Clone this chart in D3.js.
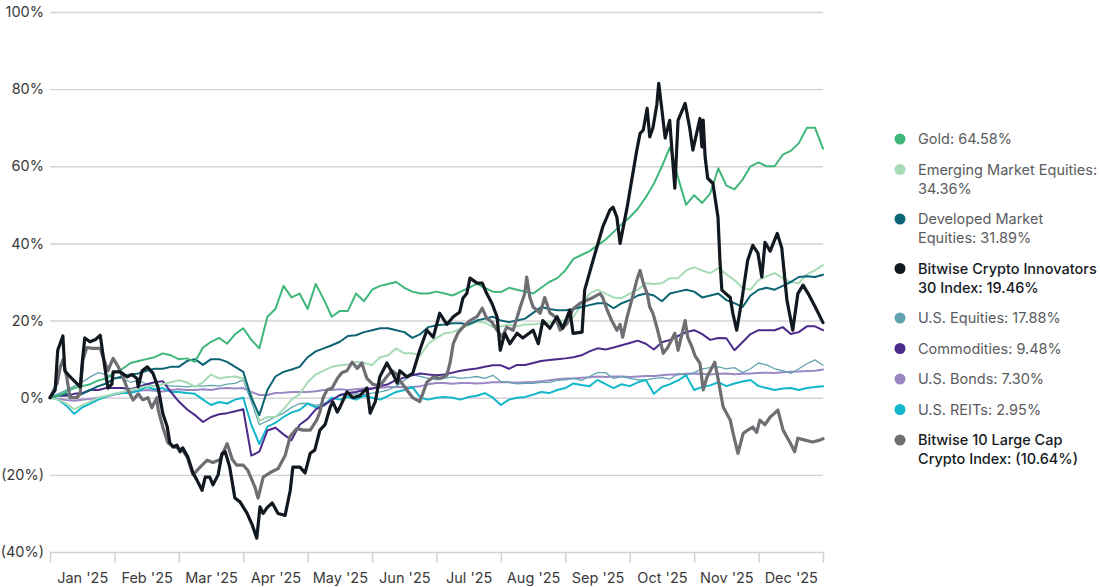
<!DOCTYPE html>
<html>
<head>
<meta charset="utf-8">
<script src="https://cdn.jsdelivr.net/npm/d3@7"></script>
<style>
  body { margin: 0; background: #fff; }
</style>
</head>
<body>
<svg id="chart" width="1100" height="587"></svg>
<script>
// values. x unit = months since Jan 1 (0..12)
const months = ["Jan '25","Feb '25","Mar '25","Apr '25","May '25","Jun '25","Jul '25","Aug '25","Sep '25","Oct '25","Nov '25","Dec '25"]
const yTicks = [-40,-20,0,20,40,60,80,100]
// the smoother series are read every 1/8 month
const samplesPerMonth = 8

const gold = [
  0, 0.5, 1.5, 2.5, 3, 3.5, 4.5, 5,
  6.5, 7.5, 9, 9.5, 10, 10.5, 11.5, 11,
  10, 10.2, 9.3, 13, 14.5, 15.5, 14, 16.5,
  18, 15, 12.8, 21, 23, 29, 26, 27,
  23, 29.5, 25.5, 21, 22.5, 22.5, 27, 25,
  28, 29, 29.5, 30, 28.5, 27.5, 27, 27,
  27.5, 27, 26.5, 27.5, 28.5, 29.5, 28.5, 27.5,
  27.4, 28.5, 28, 27.5, 27, 28.5, 30, 31,
  33, 36, 37, 38, 39.5, 41, 43, 45,
  46.8, 49, 52, 55.5, 60, 65, 57, 50,
  52.5, 50.5, 53, 59.5, 55, 54, 56.5, 60,
  61, 60, 60, 63, 64, 66, 70, 70,
  64.58]
const emerging = [
  0, -0.5, -1.5, -3, -2, -1, 0, 0.5,
  1, 1.5, 2, 2.5, 3, 3, 3.5, 4,
  4.5, 4, 2.8, 4, 6, 5, 5.4, 5.5,
  5, 1, -6, -5, -5, -3, -0.5, 1,
  4, 6, 7, 8, 8.4, 8.6, 9.3, 9,
  8.5, 10.5, 11, 12.8, 11.5, 11.5, 11, 14,
  15.5, 16.7, 17, 18, 18.8, 19.7, 19.5, 18.3,
  18.5, 19, 18.5, 19, 19, 19.3, 19.5, 20,
  20, 21, 24, 27, 28, 27, 26, 25.8,
  27, 28, 29.7, 29.5, 29.7, 31, 31, 33,
  33.8, 33, 32.3, 33.6, 32, 30.5, 28.5, 28,
  30.5, 31.5, 32.3, 31, 30, 29.7, 32, 33,
  34.36]
const developed = [
  0, 0.5, 1, 0, 1, 2, 3, 3.7,
  5, 5.5, 6, 6.3, 7, 7.5, 7.5, 8,
  8, 9.5, 10, 8.5, 10, 10, 9.3, 8,
  6.7, 0, -4.5, 2, 5.5, 6.7, 7.3, 8,
  10.5, 12, 12.8, 13.6, 14.5, 16, 16.2, 17,
  17.5, 18, 18, 17.5, 17, 15.5, 16.5, 18.3,
  18.8, 19, 19.3, 19.3, 19, 20, 20.5, 21,
  20, 19.6, 20, 20.5, 22, 23.5, 23, 22.7,
  22.7, 23, 23.5, 24, 24.5, 24.5, 23.2, 24.5,
  25.3, 26.5, 27, 26.5, 25, 27, 27.5, 28,
  27.5, 26, 26.5, 27, 25.3, 24.5, 23.5, 26.5,
  28, 28.5, 28, 29, 30, 31.3, 31.5, 31.3,
  31.89]
const usEquities = [
  0, 1, 2, 3, 4, 5.4, 6.5, 6,
  5, 5, 4, 4.5, 3.5, 3, 3.5, 3,
  3, 2.8, 3, 3, 3.2, 3, 3.5, 3.7,
  4.6, -1, -7, -6, -5, -4, -2.5, -1.5,
  -1.5, -2, -1.5, -0.5, 0.5, 0.8, 1, 0.8,
  1.2, 1.5, 2, 3, 4.5, 6, 5.5, 5,
  4.6, 5, 5.4, 5, 5.2, 5.5, 5, 5.8,
  4.2, 4, 3.6, 3.7, 3.7, 4, 4, 4.5,
  4.6, 5, 4.5, 5.5, 6.5, 6.5, 5, 5.5,
  5, 4.6, 4.6, 5, 5.2, 4.8, 6.3, 5.8,
  6.5, 7.5, 7.8, 8, 7.5, 7.8, 6.5, 7.5,
  9, 8.5, 7.5, 7, 6.3, 7.5, 8.8, 9.8,
  8.4]
const commodities = [
  0, 0.5, 0.5, 1, 1.2, 2, 2, 2.5,
  2.5, 2.5, 2.2, 2.8, 3.5, 4, 4.3, 1.5,
  -1, -3, -4.5, -6.3, -5, -4.3, -4, -3.5,
  -3, -15, -14, -8.5, -7.8, -9.5, -11, -7,
  -5.5, -3, -2, -0.6, 0.7, 1.2, 1.5, 2,
  2.3, 3, 3.5, 4.6, 5.2, 5.8, 6.3, 6,
  5.8, 6, 6.5, 7, 7.3, 7.6, 8, 8.4,
  8.4, 7.5, 8.5, 8.5, 9, 9.5, 9.8, 10,
  10.2, 10.5, 11, 12, 12.8, 12.5, 13, 13.6,
  14.2, 14.8, 14, 12.5, 14.4, 15, 16, 17,
  17.5, 16.5, 15, 15.5, 15.4, 12.3, 14.4, 16.5,
  17.5, 17.5, 17.5, 18.3, 16.5, 17, 18.5, 18.5,
  17.5]
const usBonds = [
  0, -0.3, -0.6, -0.8, -0.5, -0.3, 0, 0.3,
  0.8, 1.2, 1.5, 1.8, 2, 1.8, 1.6, 2,
  2.2, 2, 2, 2.2, 2, 2.4, 2.5, 2.4,
  2.5, 1.5, 0.7, 0.7, 1.2, 1.3, 1.5, 1.5,
  1.5, 1.7, 2, 2, 2.2, 2, 2.2, 2.4,
  2.5, 2.6, 2.8, 2.8, 2.7, 2.8, 3, 3.5,
  3.8, 3.8, 3.6, 3.8, 3.8, 3.7, 3.8, 4,
  4, 4, 3.9, 4, 4.1, 4.3, 4.5, 4.8,
  5, 5, 5.2, 5.3, 5.5, 5.4, 5.5, 5.5,
  5.4, 5.5, 5.6, 5.6, 5.8, 6, 6, 6.2,
  6.3, 6.2, 6, 6.2, 6.3, 6.1, 6.2, 6.3,
  6.4, 6.5, 6.4, 6.6, 6.7, 6.8, 6.9, 7,
  7.3]
const usReits = [
  0, -0.5, -2, -4.2, -2.5, -1.5, -0.5, 0.3,
  1, 1.2, 1.2, 1.8, 2.8, 2.2, 2.5, 1.5,
  1.5, 1.2, 1, -0.5, -1.9, -1.1, -1.5, -0.5,
  0, -7, -12, -7.5, -6.5, -5, -3.8, -3.2,
  -1.5, -2.5, -2, 0, -0.5, 0.2, -0.5, 0.5,
  0, -0.5, 0.5, 1.5, 2, 2.8, 0, -0.5,
  0, 0.2, 0, -0.5, 0.2, 0.5, 1.2, 0,
  -1.9, -0.5, 0, 0.2, 0.8, 1.5, 1.2, 2,
  2.5, 3.7, 3.3, 3, 4.6, 3.5, 2.5, 3.5,
  3, 4, 4.6, 1, 2.8, 3.5, 4.5, 5.8,
  2, 2.8, 3.2, 4, 3, 3.7, 4.2, 4.6,
  3, 2.5, 2, 2.4, 2.5, 2, 2.5, 2.8,
  2.95]

// the two crypto indexes are spiky, so they are read as [month, value] turning points
const innovators30 = [
  [0,0],[0.08,2],[0.12,12.3],[0.20,16],[0.23,7],[0.28,6],[0.36,4.6],[0.47,2.8],[0.50,9],[0.54,15.5],
  [0.62,14.5],[0.70,15],[0.78,16.2],[0.82,11.5],[0.88,4.6],[0.90,2.5],[0.96,3.5],[0.98,6.7],[1.09,6.7],[1.20,5.4],
  [1.27,6],[1.35,5],[1.37,2.8],[1.43,7],[1.51,8],[1.60,6.3],[1.68,2.5],[1.75,-4],[1.82,-7.5],[1.86,-11.7],
  [1.91,-12.8],[1.97,-12.3],[2.02,-14],[2.06,-13],[2.14,-15.4],[2.22,-19.5],[2.28,-21.3],[2.36,-24],[2.41,-20.6],[2.48,-20.6],
  [2.53,-22.6],[2.61,-20],[2.67,-14.5],[2.72,-14],[2.79,-18],[2.87,-26],[2.95,-27],[3.06,-30],[3.14,-33],[3.21,-36.4],
  [3.26,-28.3],[3.31,-30],[3.37,-28.5],[3.45,-27.3],[3.54,-30],[3.65,-30.5],[3.73,-24],[3.77,-18],[3.88,-18],[3.96,-19.5],
  [4.04,-14.4],[4.11,-13.6],[4.19,-8.4],[4.27,-7],[4.35,-2.4],[4.39,-1.1],[4.46,-3.7],[4.50,-2.5],[4.61,1.5],[4.70,0],
  [4.81,0.5],[4.92,2.5],[4.97,-4],[5.05,-1],[5.12,5.4],[5.23,9],[5.32,6.3],[5.39,3.8],[5.43,7],[5.54,5.4],
  [5.63,6.3],[5.74,12.3],[5.85,17.5],[5.95,15.7],[6.05,21.9],[6.16,19],[6.26,21],[6.36,22.2],[6.41,25.8],[6.47,27],
  [6.52,31],[6.63,29.7],[6.71,29.7],[6.78,27],[6.86,24.5],[6.94,21],[6.99,12.3],[7.06,16.7],[7.14,14],[7.25,16.7],
  [7.34,15.5],[7.50,17.5],[7.58,14],[7.65,20],[7.76,18],[7.87,21],[7.96,18],[8.07,22.7],[8.12,16.7],[8.26,17],
  [8.30,27.9],[8.43,35.6],[8.58,44.2],[8.69,48.6],[8.74,49.4],[8.80,46.8],[8.85,40],[8.96,49.4],[9.03,56.4],[9.11,64.2],
  [9.16,68.5],[9.21,69.4],[9.27,75],[9.31,67.6],[9.36,70],[9.42,75.9],[9.45,81.5],[9.50,74.5],[9.55,67.3],[9.62,71.9],
  [9.70,54.3],[9.75,71.9],[9.86,76.3],[9.93,70],[9.98,64.2],[10.09,72.4],[10.12,65],[10.14,72],[10.17,62.4],[10.21,56.9],
  [10.29,55.6],[10.37,46.8],[10.40,35.6],[10.43,27.9],[10.56,26],[10.60,21.9],[10.66,17.5],[10.74,25.3],[10.83,35.6],[10.91,39.5],
  [10.99,37.5],[11.05,31.3],[11.10,40.3],[11.18,38],[11.29,42.6],[11.36,38.8],[11.44,25.3],[11.49,21],[11.53,17.5],[11.61,27],
  [11.69,29.2],[11.77,27],[11.88,23.5],[12,19.46]]
const largeCap10 = [
  [0,0],[0.11,3.7],[0.16,8],[0.20,9.8],[0.26,5.4],[0.31,0],[0.42,0],[0.47,1.2],[0.51,9.8],[0.57,13],
  [0.67,12.8],[0.78,12.8],[0.82,10.7],[0.90,7],[0.98,10.2],[1.06,8],[1.13,5.4],[1.21,2],[1.29,-0.6],[1.37,1],
  [1.44,-0.5],[1.52,0],[1.58,-2.6],[1.66,0],[1.68,-3.2],[1.75,-7.5],[1.83,-11.7],[1.89,-12.3],[1.97,-13],[2.06,-13.6],
  [2.13,-15.4],[2.22,-20],[2.33,-18],[2.44,-16.2],[2.53,-16.8],[2.64,-16],[2.75,-11.9],[2.83,-16],[2.90,-17.5],[3.00,-17.5],
  [3.07,-18.8],[3.18,-23.1],[3.23,-26],[3.31,-20.6],[3.42,-19.4],[3.54,-18.4],[3.65,-15],[3.73,-10],[3.83,-8],[3.93,-8.4],
  [4.04,-8.4],[4.14,-5.8],[4.19,-3.7],[4.24,0],[4.30,2],[4.38,2.5],[4.46,5],[4.53,6.5],[4.61,7],[4.69,9.2],
  [4.77,7.6],[4.84,9],[4.92,5],[5.01,3.5],[5.12,3],[5.23,5.5],[5.31,7],[5.39,6],[5.43,4.5],[5.54,2],
  [5.63,0],[5.74,-1],[5.79,1.2],[5.85,4],[5.95,5.4],[6.05,5],[6.16,5.8],[6.21,9],[6.26,14],[6.33,16.7],
  [6.41,18.3],[6.52,20],[6.63,21],[6.71,23.2],[6.78,20.6],[6.86,19.6],[6.94,17.5],[7.02,15.7],[7.09,18.3],[7.19,17.5],
  [7.30,23.5],[7.37,27],[7.40,31.3],[7.45,26],[7.50,23.5],[7.61,21.9],[7.68,26],[7.76,22],[7.84,21],[7.92,17.5],
  [8.03,19.3],[8.12,23],[8.23,24.5],[8.34,25.3],[8.43,26],[8.54,27],[8.58,26],[8.65,22.7],[8.72,20],[8.80,17.5],
  [8.85,19],[8.89,15.7],[8.96,21],[9.03,25.3],[9.11,30.5],[9.16,33],[9.21,29.7],[9.27,27],[9.31,23.5],[9.36,21.9],
  [9.42,18.3],[9.47,15],[9.52,11.5],[9.59,13],[9.70,16.7],[9.75,12.3],[9.86,20],[9.90,15.7],[9.97,13],[10.01,11],
  [10.09,8.9],[10.14,2],[10.20,5.4],[10.25,7],[10.32,9.2],[10.37,5],[10.45,-2.4],[10.56,-5.8],[10.60,-8.9],[10.68,-14.4],
  [10.76,-9.3],[10.83,-8.4],[10.91,-7.6],[10.97,-9],[11.02,-5.8],[11.10,-7],[11.18,-5],[11.25,-4],[11.30,-3.2],[11.38,-8.4],
  [11.49,-11.7],[11.56,-14],[11.61,-10.5],[11.72,-11],[11.84,-11.5],[11.95,-11],[12,-10.64]]

const legendLabels = [
  ["Gold: 64.58%"],
  ["Emerging Market Equities:", "34.36%"],
  ["Developed Market", "Equities: 31.89%"],
  ["Bitwise Crypto Innovators", "30 Index: 19.46%"],
  ["U.S. Equities: 17.88%"],
  ["Commodities: 9.48%"],
  ["U.S. Bonds: 7.30%"],
  ["U.S. REITs: 2.95%"],
  ["Bitwise 10 Large Cap", "Crypto Index: (10.64%)"]
]

const sampled = vals => vals.map((v, i) => [i / samplesPerMonth, v])

// legend order, with styles
const series = [
  {points: sampled(gold),        color: "#3fb77a", width: 2,   strong: false},
  {points: sampled(emerging),    color: "#a6dbb6", width: 2,   strong: false},
  {points: sampled(developed),   color: "#0c6373", width: 2,   strong: false},
  {points: innovators30,         color: "#111820", width: 3.2, strong: true},
  {points: sampled(usEquities),  color: "#62a5b1", width: 1.3, strong: false},
  {points: sampled(commodities), color: "#4b2a8c", width: 2,   strong: false},
  {points: sampled(usBonds),     color: "#9a87c4", width: 2,   strong: false},
  {points: sampled(usReits),     color: "#13b7cb", width: 2,   strong: false},
  {points: largeCap10,           color: "#6e6e73", width: 3.2, strong: true}
]
series.forEach((s, i) => s.label = legendLabels[i])
// draw order: thin lines under the crypto indexes
const drawOrder = [6, 4, 7, 5, 1, 2, 0, 8, 3]

const FONT = "Inter, 'Liberation Sans', sans-serif"
const plotLeft = 50, plotRight = 823, plotTop = 12, plotBottom = 552

const x = d3.scaleLinear().domain([0, months.length]).range([plotLeft, plotRight])
const y = d3.scaleLinear().domain([-40, 100]).range([plotBottom, plotTop])
const pct = v => v < 0 ? "(" + Math.abs(v) + "%)" : v + "%"

const svg = d3.select("#chart")

// grid + y labels
svg.append("g")
  .attr("transform", "translate(" + plotLeft + ",0)")
  .call(d3.axisLeft(y).tickValues(yTicks).tickSize(-(plotRight - plotLeft)).tickPadding(6).tickFormat(pct))
  .call(g => g.select(".domain").remove())
  .call(g => g.selectAll("line").attr("stroke", "#d3d3d3").attr("stroke-width", 1.4))
  .call(g => g.selectAll("text").attr("fill", "#3a3a3a"))
  .attr("font-family", FONT).attr("font-size", 14.5)

// month ticks at boundaries
svg.append("g")
  .attr("transform", "translate(0," + plotBottom + ")")
  .call(d3.axisBottom(x).tickValues(d3.range(months.length + 1)).tickSize(11).tickFormat(""))
  .call(g => g.select(".domain").remove())
  .call(g => g.selectAll("line").attr("stroke", "#d0d0d0").attr("stroke-width", 1.4))

// month labels centred in each month
svg.append("g")
  .attr("transform", "translate(0," + plotBottom + ")")
  .call(d3.axisBottom(x).tickValues(months.map((m, i) => i + 0.5)).tickSize(0).tickPadding(21)
    .tickFormat((d, i) => months[i]))
  .call(g => g.select(".domain").remove())
  .call(g => g.selectAll("text").attr("fill", "#3a3a3a"))
  .attr("font-family", FONT).attr("font-size", 14.5)

const line = d3.line()
  .x(d => x(d[0]))
  .y(d => y(d[1]))

svg.append("g").selectAll("path")
  .data(drawOrder.map(i => series[i]))
  .join("path")
    .attr("d", d => line(d.points))
    .attr("fill", "none")
    .attr("stroke", d => d.color)
    .attr("stroke-width", d => d.width)
    .attr("stroke-linejoin", "round")
    .attr("stroke-linecap", "round")

// legend
let ly = 139
series.forEach(s => { s.ly = ly; ly += 30.5 + 19 * (s.label.length - 1) })

const legend = svg.append("g").attr("font-family", FONT).attr("font-size", 14.5)
const item = legend.selectAll("g").data(series).join("g")
  .attr("transform", d => "translate(900," + d.ly + ")")
item.append("circle").attr("r", 5.5).attr("fill", d => d.color)
item.append("text")
  .attr("fill", d => d.strong ? "#15191e" : "#5a5b5e")
  .attr("font-weight", d => d.strong ? 500 : 400)
  .selectAll("tspan").data(d => d.label).join("tspan")
    .attr("x", 18)
    .attr("y", (d, i) => i * 19)
    .attr("dy", "0.35em")
    .text(d => d)
</script>
</body>
</html>
